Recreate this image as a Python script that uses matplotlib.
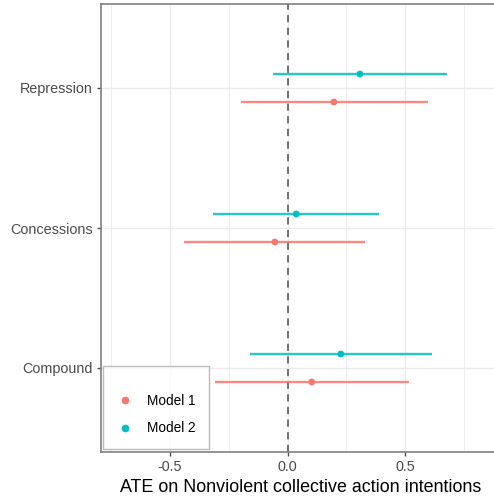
import matplotlib
matplotlib.use('Agg')
from matplotlib import pyplot as plt
from matplotlib.lines import Line2D

plt.rcParams['font.family'] = ['Liberation Sans', 'DejaVu Sans']

categories = ['Compound', 'Concessions', 'Repression']
models = ['Model 1', 'Model 2']
colors = {'Model 1': '#F8766D', 'Model 2': '#00BFC4'}

est = {
    'Model 1': [0.103, -0.054, 0.197],
    'Model 2': [0.227, 0.037, 0.308],
}
lower = {
    'Model 1': [-0.309, -0.440, -0.200],
    'Model 2': [-0.160, -0.317, -0.060],
}
upper = {
    'Model 1': [0.519, 0.330, 0.597],
    'Model 2': [0.615, 0.391, 0.677],
}
offsets = {'Model 1': -0.1, 'Model 2': 0.1}

fig = plt.figure(figsize=(4.94, 4.98), dpi=100)
ax = fig.add_axes([101 / 494, 46 / 498, 398 / 494, 448 / 498])

for m in models:
    ys = [i + 1 + offsets[m] for i in range(len(categories))]
    ax.hlines(ys, lower[m], upper[m], color=colors[m], lw=1.7, alpha=0.85, zorder=3)
    ax.scatter(est[m], ys, color=colors[m], s=24, zorder=4, edgecolors='none')

ax.axvline(0, color='#666666', ls=(0, (4, 3)), lw=1.3, zorder=2)

ax.set_xlim(-0.794, 0.9)
ax.set_ylim(0.4, 3.6)
ax.set_yticks([1, 2, 3])
ax.set_yticklabels(categories)
ax.set_xticks([-0.5, 0.0, 0.5])
ax.set_xticklabels(['-0.5', '0.0', '0.5'])
ax.set_xticks([-0.75, -0.25, 0.25, 0.75], minor=True)
ax.grid(True, which='major', color='#EBEBEB', lw=1.0, zorder=0)
ax.grid(True, which='minor', axis='x', color='#EBEBEB', lw=0.6, zorder=0)
ax.set_axisbelow(True)
ax.tick_params(axis='both', which='major', colors='#4D4D4D', labelsize=10.4,
               length=3, width=1, pad=3)
ax.tick_params(axis='x', which='minor', length=0)
for s in ax.spines.values():
    s.set_color('#7F7F7F')
    s.set_linewidth(1.2)

fig.text(301 / 494, 1 - 487 / 498, 'ATE on Nonviolent collective action intentions',
         ha='center', va='center', fontsize=12.9, color='black')

handles = [Line2D([], [], marker='o', ls='none', color=colors[m], markersize=4.5)
           for m in models]
leg = ax.legend(handles, models, loc='lower left', bbox_to_anchor=(2 / 398, 3 / 448),
                title=' ', title_fontsize=1,
                fontsize=9.8, frameon=True, fancybox=False, borderpad=1.0,
                labelspacing=1.0, handlelength=1.2, handletextpad=1.0,
                borderaxespad=0)
leg.get_frame().set_edgecolor('#AAAAAA')
leg.get_frame().set_linewidth(1.0)

plt.savefig('out.png', dpi=100)
plt.close()
